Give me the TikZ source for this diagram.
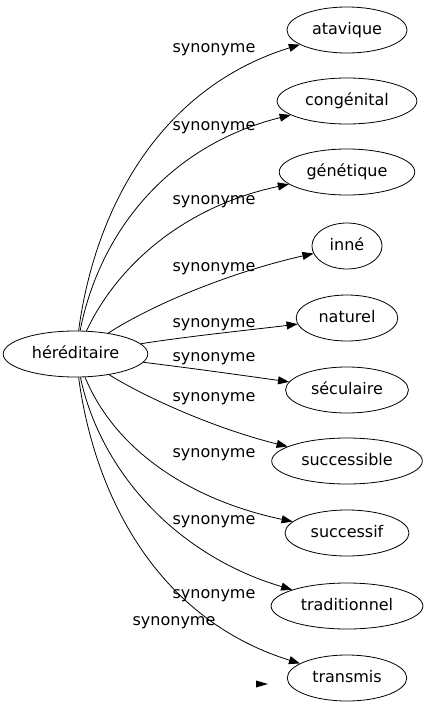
\documentclass[tikz,border=0pt]{standalone}
\usepackage{fontspec}
\setmainfont{DejaVu Sans}
\usetikzlibrary{arrows.meta,shapes.geometric}
\begin{document}
\begin{tikzpicture}[x=1pt,y=-1pt,
  word/.style={ellipse,draw,line width=0.8pt,font=\fontsize{16}{19}\selectfont,
    inner xsep=7.5pt,inner ysep=0pt,text height=12pt,text depth=4pt,minimum height=46pt},
  lab/.style={font=\fontsize{16}{19}\selectfont,inner sep=0pt},
  syn/.style={line width=0.8pt,-{Triangle[length=11pt,width=8pt]}}]
\useasboundingbox (0,0) rectangle (427,707);
% nodes
\node[word] (her) at (75.5,354) {héréditaire};
\node[word] (ata) at (347,30) {atavique};
\node[word] (con) at (347,101) {congénital};
\node[word] (gen) at (347,172) {génétique};
\node[word] (inn) at (347,246) {inné};
\node[word] (nat) at (347,318) {naturel};
\node[word] (sec) at (347,390) {séculaire};
\node[word] (sbl) at (347,461) {successible};
\node[word] (sif) at (347,533) {successif};
\node[word] (tra) at (347,606) {traditionnel};
\node[word] (tms) at (347,678) {transmis};
% edges
\draw[syn] (her) .. controls (95,208) and (160,88) .. (ata);
\draw[syn] (her) .. controls (100,230) and (170,145) .. (con);
\draw[syn] (her) .. controls (120,260) and (190,205) .. (gen);
\draw[syn] (her) .. controls (160,300) and (240,270) .. (inn);
\draw[syn] (her) .. controls (190,336) and (250,330) .. (nat);
\draw[syn] (her) .. controls (190,368) and (240,375) .. (sec);
\draw[syn] (her) .. controls (150,400) and (220,430) .. (sbl);
\draw[syn] (her) .. controls (115,450) and (190,500) .. (sif);
\draw[syn] (her) .. controls (100,470) and (175,555) .. (tra);
\draw[syn] (her) .. controls (95,500) and (160,620) .. (tms);
% labels
\node[lab] (l1) at (214,50) {synonyme};
\node[lab] (l2) at (214,128) {synonyme};
\node[lab] (l3) at (214,202) {synonyme};
\node[lab] (l4) at (214,269) {synonyme};
\node[lab] (l5) at (214,325) {synonyme};
\node[lab] (l6) at (214,359) {synonyme};
\node[lab] (l7) at (214,399) {synonyme};
\node[lab] (l8) at (214,455) {synonyme};
\node[lab] (l9) at (214,522) {synonyme};
\node[lab] (l10) at (214,596) {synonyme};
\node[lab] (l11) at (174,623) {synonyme};
% stray arrowhead
\fill (256,680.5) -- (268,684) -- (256,687.5) -- cycle;
\end{tikzpicture}
\end{document}
